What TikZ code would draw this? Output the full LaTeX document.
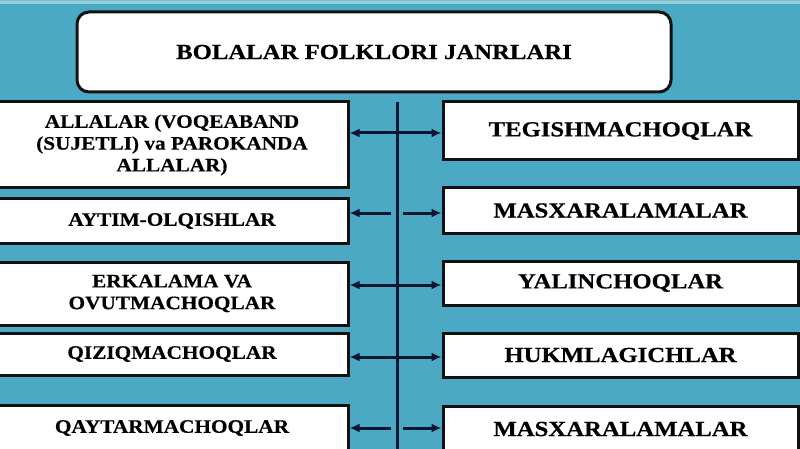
\documentclass[tikz,border=0pt]{standalone}
\usepackage{fontspec}
\newfontfamily\bigf[FakeStretch=1.15,FakeBold=0.5]{Liberation Serif}
\newfontfamily\smf[FakeStretch=1.12,FakeBold=0.5]{Liberation Serif}
\usetikzlibrary{arrows.meta}
\definecolor{bg}{HTML}{4BA9C3}
\definecolor{strip}{HTML}{8FD0DF}
\definecolor{navy}{HTML}{0B1633}
\definecolor{edge}{HTML}{111111}
\newcommand\tfont{\bigf\bfseries\fontsize{21.5}{24}\selectfont}
\newcommand\lfont{\smf\bfseries\fontsize{19}{21.8}\selectfont}
\tikzset{
  box/.style={draw=edge, line width=3pt, fill=white, inner sep=0pt, align=center},
  lbox/.style={box, minimum width=352pt, font=\lfont},
  rbox/.style={box, minimum width=355pt, font=\tfont},
  arr/.style={navy, line width=3pt, -{Latex[length=10pt,width=9pt]}},
  darr/.style={navy, line width=3pt, {Latex[length=10pt,width=9pt]}-{Latex[length=10pt,width=9pt]}},
  vline/.style={navy, line width=3pt}
}
\begin{document}
\begin{tikzpicture}[x=1pt,y=-1pt]
\useasboundingbox (0,0) rectangle (800,449);
\clip (0,0) rectangle (800,449);
\fill[bg] (0,0) rectangle (800,449);
\fill[strip] (0,0) rectangle (800,4.5);
\fill[strip!70!gray] (0,0) rectangle (800,1);

% title
\node[box, rounded corners=12pt, minimum width=594pt, minimum height=80pt, font=\tfont] (title) at (374,52) {BOLALAR FOLKLORI JANRLARI};

% vertical spine
\coordinate (vtop) at (397,102);
\coordinate (vbot) at (397,455);
\draw[vline] (vtop) -- (vbot);

% left boxes
\node[lbox, minimum height=86pt] (L1) at (172,145) {ALLALAR (VOQEABAND\\(SUJETLI) va PAROKANDA\\ALLALAR)};
\node[lbox, minimum height=44pt] (L2) at (172,221) {AYTIM-OLQISHLAR};
\node[lbox, minimum height=63pt] (L3) at (172,293.5) {ERKALAMA VA\\OVUTMACHOQLAR};
\node[lbox, minimum height=42pt] (L4) at (172,354) {QIZIQMACHOQLAR};
\node[lbox, minimum height=46pt] (L5) at (172,428) {QAYTARMACHOQLAR};

% right boxes
\node[rbox, minimum height=58pt] (R1) at (620.5,131) {TEGISHMACHOQLAR};
\node[rbox, minimum height=45pt] (R2) at (620.5,210.5) {MASXARALAMALAR};
\node[rbox, minimum height=44pt] (R3) at (620.5,283) {YALINCHOQLAR};
\node[rbox, minimum height=44pt] (R4) at (620.5,355) {HUKMLAGICHLAR};
\node[rbox, minimum height=46pt] (R5) at (620.5,429) {MASXARALAMALAR};

% connectors
\coordinate (j1) at (397,133);
\coordinate (j3) at (397,285);
\coordinate (j4) at (397,357);
\draw[darr] (j1 -| L1.east) -- (j1 -| R1.west);
\draw[darr] (j3 -| L3.east) -- (j3 -| R3.west);
\draw[darr] (j4 -| L4.east) -- (j4 -| R4.west);

\coordinate (g2l) at (391,213);
\coordinate (g2r) at (403,213);
\draw[arr] (g2l) -- (g2l -| L2.east);
\draw[arr] (g2r) -- (g2r -| R2.west);

\coordinate (g5l) at (391,428);
\coordinate (g5r) at (403,428);
\draw[arr] (g5l) -- (g5l -| L5.east);
\draw[arr] (g5r) -- (g5r -| R5.west);
\end{tikzpicture}
\end{document}
